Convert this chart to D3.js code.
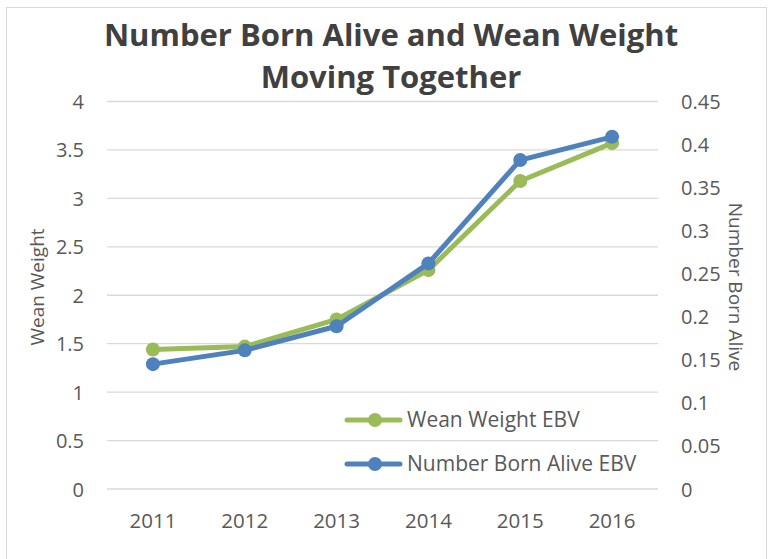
<!DOCTYPE html>
<html>
<head>
<meta charset="utf-8">
<script src="https://cdn.jsdelivr.net/npm/d3@7"></script>
<style>
  body { margin: 0; background: #fff; }
  text { font-family: "Open Sans", sans-serif; }
</style>
</head>
<body>
<div id="chart"></div>
<script>
// chart data
const years = ["2011", "2012", "2013", "2014", "2015", "2016"];
const weanWeight = [1.44, 1.47, 1.75, 2.26, 3.18, 3.57];
const bornAlive = [0.145, 0.161, 0.189, 0.262, 0.382, 0.409];
const leftTicks = [0, 0.5, 1, 1.5, 2, 2.5, 3, 3.5, 4];
const rightTicks = [0, 0.05, 0.1, 0.15, 0.2, 0.25, 0.3, 0.35, 0.4, 0.45];
const seriesNames = ["Wean Weight EBV", "Number Born Alive EBV"];

const GREEN = "#9bbb59", BLUE = "#4f81bd";
const W = 772, H = 559;
const margin = { top: 101.5, right: 114, bottom: 70, left: 107 };
const width = W - margin.left - margin.right,
    height = H - margin.top - margin.bottom;

const svg = d3.select("#chart").append("svg")
    .attr("width", W).attr("height", H);

// outer border
svg.append("rect")
    .attr("x", 6.5).attr("y", 7.5)
    .attr("width", 760).attr("height", 560)
    .attr("fill", "none").attr("stroke", "#d9d9d9");

// title
const title = svg.append("text")
    .attr("x", 391).attr("text-anchor", "middle")
    .attr("fill", "#404040").style("font-weight", "bold")
    .style("font-size", "31px");
title.append("tspan").attr("x", 391).attr("y", 46).text("Number Born Alive and Wean Weight");
title.append("tspan").attr("x", 391).attr("y", 88).text("Moving Together");

const g = svg.append("g").attr("transform", `translate(${margin.left},${margin.top})`);

const x = d3.scaleBand().domain(years).range([0, width]);
const yL = d3.scaleLinear().domain([0, 4]).range([height, 0]);
const yR = d3.scaleLinear().domain([0, 0.45]).range([height, 0]);

// gridlines
g.selectAll("line.grid")
    .data(leftTicks)
    .join("line")
    .attr("class", "grid")
    .attr("x1", 0).attr("x2", width)
    .attr("y1", d => yL(d)).attr("y2", d => yL(d))
    .attr("stroke", "#d9d9d9").attr("stroke-width", 1.3);

// left axis
const axL = g.append("g")
    .call(d3.axisLeft(yL).tickValues(leftTicks).tickSize(0).tickPadding(23).tickFormat(d3.format("")));
axL.select(".domain").remove();
axL.selectAll("text").attr("fill", "#595959").style("font-size", "20px").attr("dy", "0.35em");

// right axis
const axR = g.append("g").attr("transform", `translate(${width},0)`)
    .call(d3.axisRight(yR).tickValues(rightTicks).tickSize(0).tickPadding(23).tickFormat(d3.format("")));
axR.select(".domain").remove();
axR.selectAll("text").attr("fill", "#595959").style("font-size", "20px").attr("dy", "0.35em");

// bottom axis
const axB = g.append("g").attr("transform", `translate(0,${height})`)
    .call(d3.axisBottom(x).tickSize(0).tickPadding(24));
axB.select(".domain").remove();
axB.selectAll("text").attr("fill", "#595959").style("font-size", "20.5px");

// axis titles
svg.append("text")
    .attr("transform", "translate(44,287) rotate(-90)")
    .attr("text-anchor", "middle").attr("fill", "#595959")
    .style("font-size", "19px").text("Wean Weight");
svg.append("text")
    .attr("transform", "translate(729,287) rotate(90)")
    .attr("text-anchor", "middle").attr("fill", "#595959")
    .style("font-size", "19px").text("Number Born Alive");

// lines
const cx = d => x(d) + x.bandwidth() / 2;
const series = [
    { name: seriesNames[0], color: GREEN, values: weanWeight, y: yL },
    { name: seriesNames[1], color: BLUE, values: bornAlive, y: yR }
];

series.forEach(s => {
    const line = d3.line().x((d, i) => cx(years[i])).y(d => s.y(d));
    g.append("path")
        .datum(s.values)
        .attr("d", line)
        .attr("fill", "none")
        .attr("stroke", s.color)
        .attr("stroke-width", 5)
        .attr("stroke-linejoin", "round");
    g.selectAll(null)
        .data(s.values)
        .join("circle")
        .attr("cx", (d, i) => cx(years[i]))
        .attr("cy", d => s.y(d))
        .attr("r", 7)
        .attr("fill", s.color);
});

// legend
const legend = svg.append("g").attr("transform", "translate(347,420)");
series.forEach((s, i) => {
    const row = legend.append("g").attr("transform", `translate(0,${i * 44})`);
    row.append("line").attr("x1", 0).attr("x2", 53)
        .attr("stroke", s.color).attr("stroke-width", 5).attr("stroke-linecap", "round");
    row.append("circle").attr("cx", 28).attr("r", 7).attr("fill", s.color);
    row.append("text").attr("x", 60).attr("dy", "0.35em")
        .attr("fill", "#595959").style("font-size", "21px").text(s.name);
});
</script>
</body>
</html>
